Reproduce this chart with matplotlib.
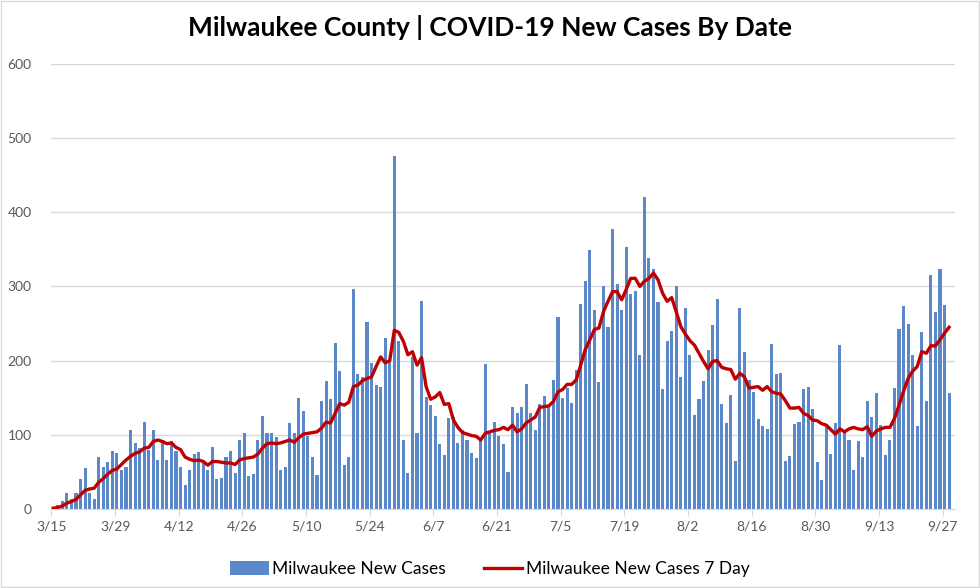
import matplotlib.pyplot as plt
from matplotlib.patches import Rectangle

# daily new cases, 3/15 .. 9/28
new_cases = [
    1, 5, 11, 22, 14, 22, 40, 55, 22, 14,
    70, 56, 64, 78, 75, 52, 56, 106, 89, 82,
    117, 79, 107, 66, 93, 66, 91, 78, 56, 32,
    52, 74, 77, 63, 52, 84, 40, 42, 70, 78,
    49, 93, 103, 44, 47, 93, 125, 103, 102, 97,
    52, 56, 116, 103, 149, 132, 98, 70, 46, 146,
    172, 148, 224, 186, 59, 70, 297, 182, 178, 252,
    197, 167, 164, 231, 198, 476, 226, 93, 49, 205,
    103, 280, 151, 140, 125, 87, 73, 122, 124, 89,
    107, 93, 76, 69, 92, 195, 102, 117, 99, 88,
    50, 138, 129, 138, 168, 129, 106, 141, 152, 140,
    174, 259, 150, 163, 143, 188, 276, 308, 349, 268,
    171, 301, 245, 377, 304, 268, 353, 290, 294, 207,
    420, 339, 324, 279, 162, 226, 240, 300, 178, 271,
    208, 127, 148, 172, 214, 248, 283, 142, 116, 153,
    65, 271, 212, 174, 158, 121, 112, 108, 222, 182,
    183, 65, 72, 115, 117, 162, 164, 135, 63, 39,
    110, 74, 116, 221, 102, 93, 53, 91, 70, 145,
    124, 157, 113, 73, 93, 163, 243, 273, 249, 207,
    112, 238, 145, 316, 265, 323, 275, 157,
]

# 7 day line
seven_day = [
    1, 2, 4, 8, 10, 13, 19, 25, 27, 28,
    36, 41, 47, 52, 54, 60, 66, 71, 75, 77,
    82, 83, 91, 93, 91, 88, 89, 83, 80, 70,
    67, 65, 66, 64, 59, 64, 64, 63, 62, 62,
    60, 66, 68, 69, 70, 74, 82, 88, 89, 88,
    89, 91, 93, 90, 96, 101, 102, 103, 104, 109,
    117, 116, 129, 142, 140, 144, 165, 167, 173, 176,
    178, 192, 205, 197, 200, 241, 238, 226, 208, 212,
    194, 204, 165, 148, 151, 157, 141, 142, 120, 110,
    103, 101, 99, 98, 93, 102, 104, 106, 107, 110,
    107, 113, 104, 108, 116, 120, 124, 137, 138, 139,
    145, 158, 161, 168, 168, 174, 194, 215, 228, 242,
    244, 266, 280, 293, 293, 282, 296, 311, 311, 300,
    307, 311, 318, 309, 291, 280, 285, 266, 246, 236,
    227, 221, 210, 199, 189, 199, 200, 191, 189, 188,
    175, 183, 178, 163, 164, 165, 160, 165, 158, 156,
    155, 146, 136, 136, 137, 129, 126, 120, 119, 115,
    113, 107, 101, 108, 104, 108, 110, 108, 107, 111,
    98, 105, 108, 110, 110, 122, 140, 159, 176, 186,
    192, 212, 210, 220, 220, 228, 237, 245,
]

tick_labels = ['3/15', '3/29', '4/12', '4/26', '5/10', '5/24', '6/7',
               '6/21', '7/5', '7/19', '8/2', '8/16', '8/30', '9/13', '9/27']

plt.rcParams['font.family'] = ['Lato', 'DejaVu Sans']
grey = '#595959'

fig = plt.figure(figsize=(9.8, 5.88), dpi=100)
ax = fig.add_axes([0.052, 0.1344, 0.922, 0.7568])

days = list(range(len(new_cases)))
bars = ax.bar(days, new_cases, width=0.68, color='#5b88c9', zorder=2)
line, = ax.plot(days, seven_day, color='#c00000', lw=2.4, zorder=3)

ax.set_ylim(0, 600)
ax.set_xlim(-0.5, 198.2)
ax.set_yticks(range(0, 601, 100))
ax.set_xticks([i * 14 - 0.4 for i in range(len(tick_labels))])
ax.set_xticklabels(tick_labels)
ax.grid(axis='y', color='#d9d9d9', lw=1, zorder=0)
for s in ['top', 'right', 'left']:
    ax.spines[s].set_visible(False)
ax.spines['bottom'].set_color('#d9d9d9')
ax.tick_params(axis='y', length=0, labelsize=10, labelcolor=grey, pad=14)
ax.tick_params(axis='x', length=5, color='#d9d9d9', labelsize=10, labelcolor=grey, pad=3)

fig.suptitle('Milwaukee County | COVID-19 New Cases By Date', fontsize=19,
             fontweight='bold', y=0.975)
fig.legend([bars, line], ['Milwaukee New Cases', 'Milwaukee New Cases 7 Day'],
           loc='lower center', ncol=2, frameon=False, fontsize=12.5,
           bbox_to_anchor=(0.5, -0.008), handlelength=2.2, handleheight=0.8,
           columnspacing=2.2, handletextpad=0.2)

# light chart border like the excel chart area
fig.patches.append(Rectangle((0.001, 0.001), 0.998, 0.998, transform=fig.transFigure,
                             fill=False, edgecolor='#d9d9d9', lw=1))

plt.savefig('out.png', dpi=100)
